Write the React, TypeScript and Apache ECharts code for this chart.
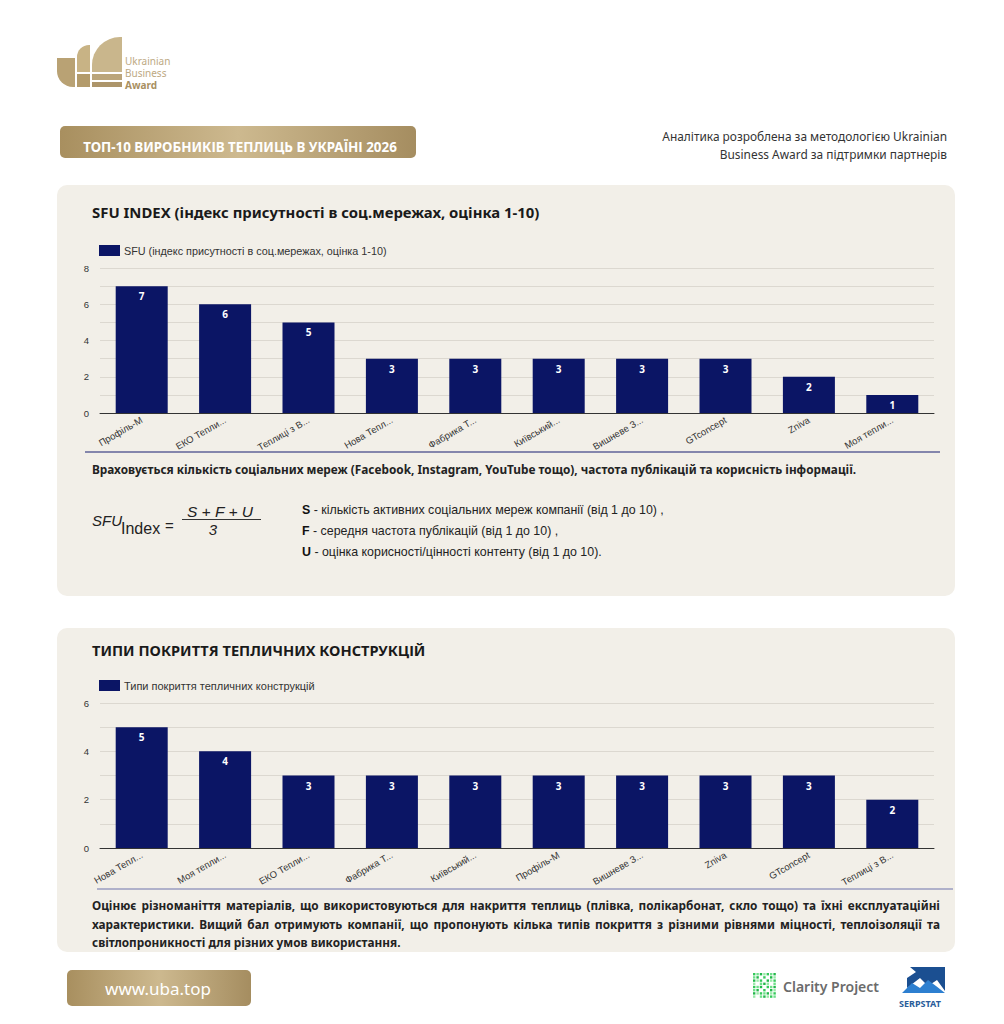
import React, { useEffect, useRef } from "react";
import * as echarts from "echarts";

const sfuSeriesName = "SFU (індекс присутності в соц.мережах, оцінка 1-10)";
const sfuCategories = ["Профіль-М", "ЕКО Тепли...", "Теплиці з В...", "Нова Тепл...", "Фабрика Т...", "Київський...", "Вишневе З...", "GTconcept", "Zniva", "Моя тепли..."];
const sfuValues = [7, 6, 5, 3, 3, 3, 3, 3, 2, 1];
const sfuTickLabels = ["0", "2", "4", "6", "8"];

const coverSeriesName = "Типи покриття тепличних конструкцій";
const coverCategories = ["Нова Тепл...", "Моя тепли...", "ЕКО Тепли...", "Фабрика Т...", "Київський...", "Профіль-М", "Вишневе З...", "Zniva", "GTconcept", "Теплиці з В..."];
const coverValues = [5, 4, 3, 3, 3, 3, 3, 3, 3, 2];
const coverTickLabels = ["0", "2", "4", "6"];

const headerTitle = "ТОП-10 ВИРОБНИКІВ ТЕПЛИЦЬ В УКРАЇНІ 2026";
const headerNote = ["Аналітика розроблена за методологією Ukrainian", "Business Award за підтримки партнерів"];
const sfuTitle = "SFU INDEX (індекс присутності в соц.мережах, оцінка 1-10)";
const sfuNote = "Враховується кількість соціальних мереж (Facebook, Instagram, YouTube тощо), частота публікацій та корисність інформації.";
const sfuDefs = [
  ["S", " - кількість активних соціальних мереж компанії (від 1 до 10) ,"],
  ["F", " - середня частота публікацій (від 1 до 10) ,"],
  ["U", " - оцінка корисності/цінності контенту (від 1 до 10)."],
];
const coverTitle = "ТИПИ ПОКРИТТЯ ТЕПЛИЧНИХ КОНСТРУКЦІЙ";
const coverNote = [
  "Оцінює різноманіття матеріалів, що використовуються для накриття теплиць (плівка, полікарбонат, скло тощо) та їхні експлуатаційні",
  "характеристики. Вищий бал отримують компанії, що пропонують кілька типів покриття з різними рівнями міцності, теплоізоляції та",
  "світлопроникності для різних умов використання.",
];

const NAVY = "#0b1565";
const PANEL = "#f2efe8";
const UI_FONT = "'Noto Sans', 'DejaVu Sans', sans-serif";
const ARIAL = "'Liberation Sans', Arial, sans-serif";

const gold = () =>
  new echarts.graphic.LinearGradient(0, 0, 1, 0, [
    { offset: 0, color: "#a88f5f" },
    { offset: 0.5, color: "#cdb98f" },
    { offset: 1, color: "#a58d60" },
  ]);

function justified(text: string, x0: number, width: number, y: number, fontSize: number, weight: string, family: string) {
  const canvas = document.createElement("canvas");
  const ctx = canvas.getContext("2d")!;
  ctx.font = `${weight} ${fontSize}px ${family}`;
  const words = text.split(" ");
  const widths = words.map((w) => ctx.measureText(w).width);
  const total = widths.reduce((a, b) => a + b, 0);
  const gap = (width - total) / (words.length - 1);
  let x = x0;
  return words.map((w, i) => {
    const el = {
      type: "text",
      x,
      y,
      style: { text: w, fill: "#222", fontSize, fontWeight: weight, fontFamily: family, verticalAlign: "middle" },
    };
    x += widths[i] + gap;
    return el;
  });
}

function clarityDots() {
  const els: any[] = [];
  const pattern = [
    "1111111",
    "1101011",
    "1110111",
    "1011101",
    "1110111",
    "1101011",
    "1111111",
    "1011111",
  ];
  const shades = ["#35c95a", "#6fe08a", "#22b84a", "#9aeaa8"];
  pattern.forEach((row, r) => {
    row.split("").forEach((c, k) => {
      if (c === "1") {
        els.push({
          type: "rect",
          shape: { x: 753 + k * 3.4, y: 973 + r * 3.2, width: 2.4, height: 2.4 },
          style: { fill: shades[(r + k) % 4] },
        });
      }
    });
  });
  return els;
}

function evenOnly(labels: string[]) {
  return (v: number) => (labels.includes(String(v)) ? String(v) : "");
}

export default function App() {
  const ref = useRef<HTMLDivElement>(null);

  useEffect(() => {
    const chart = echarts.init(ref.current!, undefined, { renderer: "svg" });

    const axisX = (cats: string[], gridIndex: number) => ({
      type: "category",
      gridIndex,
      data: cats,
      axisTick: { show: false },
      axisLine: { lineStyle: { color: "#333", width: 1 } },
      axisLabel: { rotate: 30, fontSize: 9.5, color: "#333", fontFamily: ARIAL, margin: 6, interval: 0 },
    });
    const axisY = (max: number, labels: string[], gridIndex: number) => ({
      type: "value",
      gridIndex,
      min: 0,
      max,
      interval: 1,
      axisLine: { show: false },
      axisTick: { show: false },
      axisLabel: { fontSize: 9.5, color: "#333", fontFamily: ARIAL, margin: 11, formatter: evenOnly(labels) },
      splitLine: { lineStyle: { color: "#dcd8d0", width: 1 } },
    });
    const barSeries = (name: string, values: number[], idx: number) => ({
      type: "bar",
      name,
      xAxisIndex: idx,
      yAxisIndex: idx,
      data: values,
      barWidth: 52,
      itemStyle: { color: NAVY },
      label: {
        show: true,
        position: "insideTop",
        distance: 5,
        color: "#fff",
        fontSize: 10,
        fontWeight: "bold",
        fontFamily: UI_FONT,
      },
    });

    const graphic: any[] = [
      // panels
      { type: "rect", shape: { x: 57, y: 185, width: 898, height: 411, r: 10 }, style: { fill: PANEL }, z: -10 },
      { type: "rect", shape: { x: 57, y: 628, width: 898, height: 324, r: 10 }, style: { fill: PANEL }, z: -10 },
      // logo
      { type: "rect", shape: { x: 57, y: 58, width: 18, height: 29, r: [0, 0, 0, 16] }, style: { fill: "#b9a274" } },
      { type: "rect", shape: { x: 77, y: 45, width: 13, height: 27, r: [12, 0, 0, 0] }, style: { fill: "#c8b385" } },
      { type: "rect", shape: { x: 77, y: 74, width: 13, height: 13, r: 0 }, style: { fill: "#b39b6b" } },
      { type: "rect", shape: { x: 92, y: 37, width: 30, height: 35, r: [28, 0, 0, 0] }, style: { fill: "#c9b68c" } },
      { type: "rect", shape: { x: 92, y: 74, width: 30, height: 6, r: 0 }, style: { fill: "#bba57a" } },
      { type: "rect", shape: { x: 92, y: 82, width: 30, height: 5, r: 0 }, style: { fill: "#ad956a" } },
      { type: "text", x: 125, y: 61, style: { text: "Ukrainian", fill: "#bda983", fontSize: 10, fontFamily: UI_FONT, verticalAlign: "middle" } },
      { type: "text", x: 125, y: 73, style: { text: "Business", fill: "#bda983", fontSize: 10, fontFamily: UI_FONT, verticalAlign: "middle" } },
      { type: "text", x: 125, y: 85, style: { text: "Award", fill: "#a88f5f", fontSize: 10, fontWeight: "bold", fontFamily: UI_FONT, verticalAlign: "middle" } },
      // header banner
      { type: "rect", shape: { x: 60, y: 126, width: 356, height: 32, r: 5 }, style: { fill: gold() } },
      { type: "text", x: 240, y: 147, style: { text: headerTitle, fill: "#fff", fontSize: 13.4, fontWeight: "bold", fontFamily: UI_FONT, align: "center", verticalAlign: "middle" } },
      { type: "text", x: 947, y: 136, style: { text: headerNote[0], fill: "#333", fontSize: 11.9, fontFamily: UI_FONT, align: "right", verticalAlign: "middle" } },
      { type: "text", x: 947, y: 154, style: { text: headerNote[1], fill: "#333", fontSize: 11.9, fontFamily: UI_FONT, align: "right", verticalAlign: "middle" } },
      // panel 1 texts
      { type: "text", x: 92, y: 212, style: { text: sfuTitle, fill: "#1a1a1a", fontSize: 14.9, fontWeight: "bold", fontFamily: UI_FONT, verticalAlign: "middle" } },
      { type: "line", shape: { x1: 85, y1: 452, x2: 940, y2: 452 }, style: { stroke: "#5f6399", lineWidth: 1.5 } },
      { type: "text", x: 92, y: 469, style: { text: sfuNote, fill: "#222", fontSize: 11.8, fontWeight: "bold", fontFamily: UI_FONT, verticalAlign: "middle" } },
      // formula
      { type: "text", x: 92, y: 520, style: { text: "SFU", fill: "#222", fontSize: 15, fontStyle: "italic", fontFamily: ARIAL, verticalAlign: "middle" } },
      { type: "text", x: 121, y: 528, style: { text: "Index", fill: "#222", fontSize: 16, fontFamily: ARIAL, verticalAlign: "middle" } },
      { type: "text", x: 165, y: 525, style: { text: "=", fill: "#222", fontSize: 15, fontFamily: ARIAL, verticalAlign: "middle" } },
      { type: "text", x: 220, y: 511, style: { text: "S + F + U", fill: "#222", fontSize: 15.5, fontStyle: "italic", fontFamily: ARIAL, align: "center", verticalAlign: "middle" } },
      { type: "line", shape: { x1: 182, y1: 519.5, x2: 261, y2: 519.5 }, style: { stroke: "#333", lineWidth: 1 } },
      { type: "text", x: 213, y: 529, style: { text: "3", fill: "#222", fontSize: 15, fontStyle: "italic", fontFamily: ARIAL, align: "center", verticalAlign: "middle" } },
      ...sfuDefs.map(([b, rest], i) => ({
        type: "text",
        x: 302,
        y: 510 + i * 21,
        style: {
          text: `{b|${b}}{r|${rest}}`,
          verticalAlign: "middle",
          rich: {
            b: { fontSize: 12.4, fontWeight: "bold", fontFamily: ARIAL, fill: "#111", color: "#111" },
            r: { fontSize: 12.4, fontFamily: ARIAL, fill: "#222", color: "#222" },
          },
        },
      })),
      // panel 2 texts
      { type: "text", x: 92, y: 650, style: { text: coverTitle, fill: "#1a1a1a", fontSize: 14.6, fontWeight: "bold", fontFamily: UI_FONT, verticalAlign: "middle" } },
      { type: "line", shape: { x1: 97, y1: 889, x2: 953, y2: 889 }, style: { stroke: "#9a9cc0", lineWidth: 1.5 } },
      ...justified(coverNote[0], 92, 848, 905, 11.8, "bold", UI_FONT),
      ...justified(coverNote[1], 92, 848, 924, 11.8, "bold", UI_FONT),
      { type: "text", x: 92, y: 942, style: { text: coverNote[2], fill: "#222", fontSize: 11.8, fontWeight: "bold", fontFamily: UI_FONT, verticalAlign: "middle" } },
      // footer
      { type: "rect", shape: { x: 67, y: 970, width: 184, height: 36, r: 5 }, style: { fill: gold() } },
      { type: "text", x: 158, y: 988, style: { text: "www.uba.top", fill: "#fff", fontSize: 17, fontFamily: UI_FONT, align: "center", verticalAlign: "middle" } },
      ...clarityDots(),
      { type: "text", x: 783, y: 986, style: { text: "Clarity Project", fill: "#6b6b6b", fontSize: 14, fontWeight: 600, fontFamily: UI_FONT, verticalAlign: "middle" } },
      { type: "polygon", shape: { points: [[910, 967], [945, 967], [945, 991], [937, 980], [928, 986], [920, 978], [907, 988], [907, 978], [916, 972]] }, style: { fill: "#1b4f91" } },
      { type: "polygon", shape: { points: [[902, 993], [912, 983], [920, 988], [928, 980], [936, 986], [945, 993]] }, style: { fill: "#2d7fd0" } },
      { type: "text", x: 920, y: 1003, style: { text: "SERPSTAT", fill: "#2a5d9a", fontSize: 9, fontWeight: "bold", fontFamily: UI_FONT, align: "center", verticalAlign: "middle" } },
    ];

    chart.setOption({
      animation: false,
      backgroundColor: "#ffffff",
      textStyle: { fontFamily: ARIAL },
      legend: [
        {
          data: [sfuSeriesName],
          left: 99,
          top: 245,
          padding: 0,
          itemWidth: 21,
          itemHeight: 11,
          itemGap: 4,
          icon: "rect",
          textStyle: { fontSize: 10.8, color: "#333", fontFamily: ARIAL, padding: [0, 0, 0, -1] },
        },
        {
          data: [coverSeriesName],
          left: 99,
          top: 680,
          padding: 0,
          itemWidth: 21,
          itemHeight: 11,
          icon: "rect",
          textStyle: { fontSize: 11, color: "#333", fontFamily: ARIAL, padding: [0, 0, 0, -1] },
        },
      ],
      grid: [
        { left: 100, top: 268, width: 834, height: 145, containLabel: false },
        { left: 100, top: 703, width: 834, height: 145, containLabel: false },
      ],
      xAxis: [axisX(sfuCategories, 0), axisX(coverCategories, 1)],
      yAxis: [axisY(8, sfuTickLabels, 0), axisY(6, coverTickLabels, 1)],
      series: [barSeries(sfuSeriesName, sfuValues, 0), barSeries(coverSeriesName, coverValues, 1)],
      graphic,
    });

    return () => chart.dispose();
  }, []);

  return (
    <div
      ref={ref}
      style={{ position: "fixed", left: 0, top: 0, width: 1004, height: 1024, background: "#fff" }}
    />
  );
}
